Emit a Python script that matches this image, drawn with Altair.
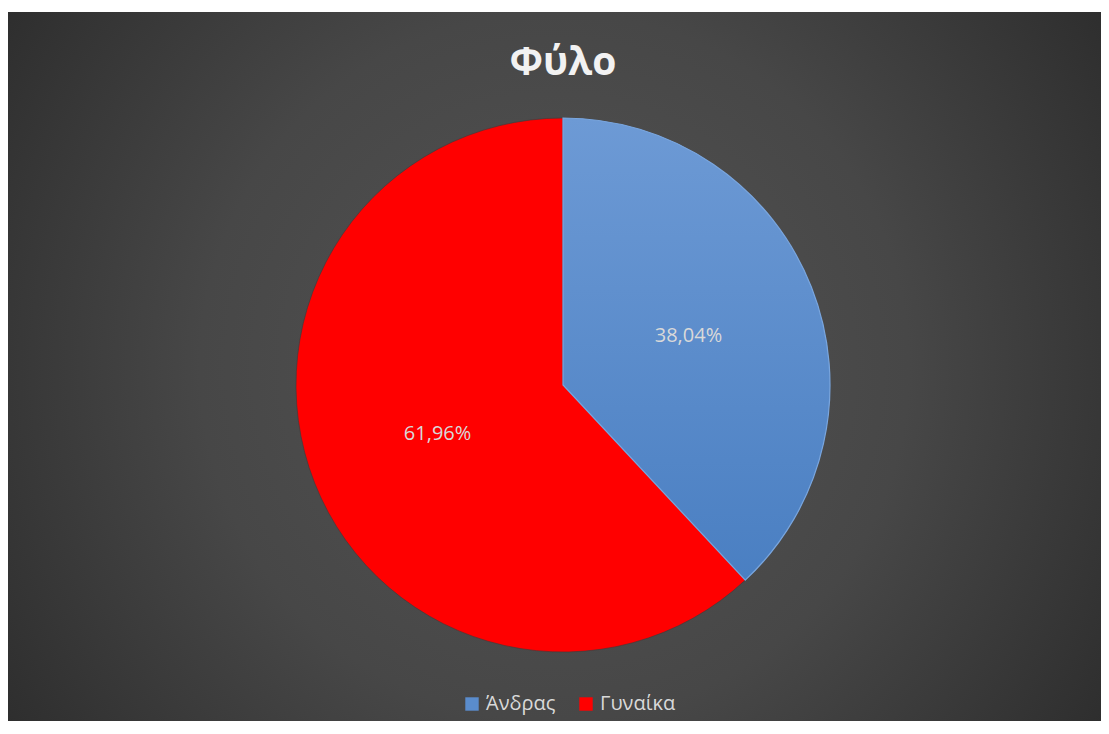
import altair as alt
import pandas as pd

categories = ["Άνδρας", "Γυναίκα"]
values = [38.04, 61.96]
colors = ["#5a8ccc", "#ff0000"]
title_text = "Φύλο"

df = pd.DataFrame({
    "cat": categories,
    "val": values,
    "order": list(range(len(categories))),
    "label": [f"{v:.2f}".replace(".", ",") + "%" for v in values],
})

W, H = 1093, 713
CX, CY = 555, 373
R = 267

bg = alt.Chart(pd.DataFrame({"a": [0]})).mark_rect(
    fill={
        "gradient": "radial",
        "x1": 0.5, "y1": 0.5, "r1": 0.0,
        "x2": 0.5, "y2": 0.5, "r2": 0.72,
        "stops": [
            {"offset": 0.0, "color": "#545454"},
            {"offset": 0.45, "color": "#474747"},
            {"offset": 1.0, "color": "#232323"},
        ],
    }
).encode(
    x=alt.value(0), x2=alt.value("width"),
    y=alt.value(0), y2=alt.value("height"),
)

base = alt.Chart(df).encode(
    theta=alt.Theta("val:Q", stack=True),
    order=alt.Order("order:Q"),
)

pie = base.mark_arc(outerRadius=R, stroke="#3a3a3a", strokeWidth=0.6).encode(
    x=alt.value(CX), y=alt.value(CY),
    color=alt.Color(
        "cat:N",
        sort=categories,
        scale=alt.Scale(domain=categories, range=colors),
        legend=alt.Legend(
            title=None,
            orient="none",
            direction="horizontal",
            legendX=454,
            legendY=682,
            symbolType="square",
            symbolSize=180,
            symbolStrokeWidth=0,
            labelColor="#d9d9d9",
            labelFont="Open Sans",
            labelFontSize=20,
            columnPadding=20,
            labelOffset=4,
        ),
    ),
)

blue_grad = alt.Chart(df).transform_filter(alt.datum.cat == categories[0]).encode(
    theta=alt.Theta("val:Q", stack=True,
                    scale=alt.Scale(domain=[0, sum(values)])),
    order=alt.Order("order:Q"),
)

blue = blue_grad.mark_arc(
    outerRadius=R,
    fill={
        "gradient": "linear",
        "x1": 0, "y1": 0, "x2": 0, "y2": 1,
        "stops": [
            {"offset": 0.0, "color": "#6d9ad5"},
            {"offset": 1.0, "color": "#4a7fc2"},
        ],
    },
    stroke="#7aa6de",
    strokeWidth=1.2,
).encode(x=alt.value(CX), y=alt.value(CY))

labels = base.mark_text(
    radius=R * 0.505,
    font="Open Sans",
    fontSize=20,
    color="#d9d9d9",
).encode(
    x=alt.value(CX), y=alt.value(CY),
    text="label:N",
)

title = alt.Chart(pd.DataFrame({"t": [title_text]})).mark_text(
    font="Open Sans",
    fontSize=39,
    fontWeight="bold",
    color="#f2f2f2",
).encode(
    x=alt.value(CX), y=alt.value(51),
    text="t:N",
)

chart = alt.layer(bg, pie, blue, labels, title).properties(
    width=W, height=H,
    autosize=alt.AutoSizeParams(type="fit", contains="padding"),
    padding={"left": 0, "top": 4, "right": 0, "bottom": 0},
    background="white",
).configure_view(stroke=None)

chart.save("out.html", embed_options={"renderer": "svg", "actions": False})
